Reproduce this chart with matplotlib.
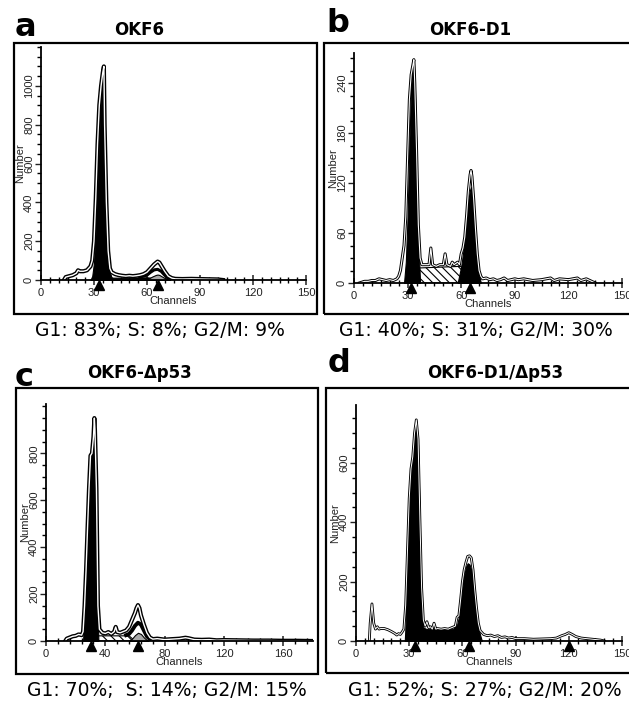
import matplotlib
matplotlib.use("Agg")
import matplotlib.pyplot as plt
from matplotlib.ticker import MultipleLocator
from matplotlib.patches import Rectangle
import matplotlib.transforms as mtransforms

plt.rcParams['font.family'] = ['Liberation Sans', 'DejaVu Sans']
plt.rcParams['hatch.linewidth'] = 0.8

W, H = 629, 701

# ---------------- data (channel, count) ----------------
panel_letters = ["a", "b", "c", "d"]
panel_titles = ["OKF6", "OKF6-D1", "OKF6-Δp53", "OKF6-D1/Δp53"]
panel_stats = ["G1: 83%; S: 8%; G2/M: 9%",
               "G1: 40%; S: 31%; G2/M: 30%",
               "G1: 70%;  S: 14%; G2/M: 15%",
               "G1: 52%; S: 27%; G2/M: 20%"]

a_raw = [(13, 0), (14, 15), (16, 20), (18, 25), (20, 35), (21, 50), (22, 45), (24, 45), (26, 50),
         (28, 70), (29, 100), (30, 200), (31, 420), (32, 700), (33, 900), (34, 1000), (35, 1070),
         (35.6, 1100), (36, 800), (37, 400), (38, 150), (39, 60), (40, 40), (42, 30), (44, 25),
         (46, 22), (48, 20), (50, 22), (52, 20), (54, 22), (56, 25), (58, 30), (60, 40), (62, 60),
         (64, 80), (66, 95), (67, 90), (68, 75), (70, 45), (72, 20), (74, 10), (76, 6), (80, 5),
         (85, 6), (90, 5), (95, 4), (100, 3), (103, 0)]
a_g1 = [(28, 0), (29, 20), (30, 90), (31, 250), (32, 500), (33, 750), (34, 950), (35, 1060),
        (35.6, 1090), (36, 780), (37, 380), (38, 130), (39, 40), (40, 10), (41, 0)]
a_s = [(36, 0), (38, 12), (50, 12), (60, 14), (64, 10), (68, 0)]
a_fit = [(56, 15), (60, 25), (62, 40), (64, 52), (66, 55), (68, 45), (70, 25), (72, 8)]
a_g2 = [(59, 0), (61, 8), (63, 18), (65, 26), (66, 28), (67, 26), (69, 15), (71, 5), (73, 0)]
a_marks = [33, 66]

b_raw = [(3, 0), (6, 2), (8, 2), (10, 3), (12, 3), (14, 5), (16, 4), (18, 3), (20, 4), (22, 3),
         (24, 5), (25, 8), (26, 15), (27, 30), (28, 45), (29, 80), (30, 150), (31, 220), (32, 250),
         (33, 262), (33.5, 268), (34, 240), (35, 160), (36, 70), (37, 30), (38, 22), (40, 22),
         (42, 22), (43, 42), (44, 22), (46, 20), (48, 22), (50, 22), (51, 35), (52, 22), (54, 20),
         (55, 25), (56, 22), (58, 25), (59, 22), (60, 35), (61, 42), (62, 55), (63, 80), (64, 110),
         (65, 130), (65.5, 135), (66, 128), (67, 100), (68, 65), (69, 35), (70, 15), (71, 8),
         (72, 5), (74, 6), (76, 4), (78, 5), (80, 3), (82, 4), (84, 6), (86, 3), (88, 4), (90, 5),
         (92, 4), (95, 5), (100, 3), (105, 4), (110, 6), (112, 3), (115, 5), (120, 4), (125, 6),
         (127, 3), (130, 5), (133, 2), (135, 0)]
b_g1 = [(28, 0), (29, 25), (30, 80), (31, 170), (32, 235), (33, 262), (33.5, 266), (34, 240),
        (35, 150), (36, 50), (37, 0)]
b_s = [(35, 0), (36, 18), (60, 20), (62, 0)]
b_g2 = [(58, 0), (59, 10), (60, 20), (61, 35), (62, 55), (63, 80), (64, 100), (65, 112),
        (65.5, 115), (66, 108), (67, 85), (68, 55), (69, 28), (70, 10), (71, 0)]
b_marks = [32, 65]

c_raw = [(13, 0), (14, 10), (16, 15), (18, 20), (20, 22), (22, 28), (24, 25), (25, 40), (26, 150),
         (27, 300), (28, 480), (29, 650), (30, 790), (31, 800), (32, 870), (32.6, 950), (33, 900),
         (34, 650), (35, 150), (36, 50), (38, 35), (40, 32), (42, 38), (44, 30), (46, 40), (47, 60),
         (48, 38), (50, 35), (52, 40), (54, 45), (56, 60), (58, 90), (60, 120), (61, 140), (62, 153),
         (63, 140), (64, 110), (66, 70), (68, 35), (70, 15), (72, 8), (75, 10), (80, 6), (85, 8),
         (90, 10), (94, 14), (96, 12), (100, 6), (105, 5), (110, 6), (115, 3), (120, 4), (130, 3),
         (140, 2), (150, 2), (160, 1), (170, 1), (180, 0)]
c_g1 = [(25, 0), (26, 140), (27, 290), (28, 470), (29, 640), (30, 780), (31, 790), (32, 860),
        (32.6, 940), (33, 880), (34, 640), (34.8, 140), (35.3, 0)]
c_s = [(34, 0), (35, 22), (56, 22), (60, 0)]
c_fit = [(54, 25), (56, 30), (58, 45), (60, 65), (62, 78), (64, 70), (66, 45), (68, 20), (70, 8)]
c_g2 = [(56, 0), (58, 10), (60, 25), (62, 35), (64, 30), (66, 15), (68, 4), (69, 0)]
c_marks = [30, 62]

d_raw = [(7.5, 0), (8, 60), (9, 125), (10, 60), (11, 40), (12, 48), (13, 40), (14, 42), (16, 42),
         (18, 38), (20, 32), (22, 25), (23, 20), (24, 25), (25, 22), (26, 30), (27, 40), (28, 120),
         (29, 300), (30, 480), (31, 580), (32, 620), (33, 700), (34, 745), (35, 680), (36, 420),
         (37, 180), (38, 70), (39, 50), (40, 65), (41, 45), (42, 48), (43, 40), (44, 60), (45, 40),
         (46, 42), (48, 40), (50, 42), (52, 40), (54, 45), (56, 50), (57, 80), (58, 85), (59, 140),
         (60, 200), (61, 240), (62, 265), (63, 285), (64, 287), (65, 280), (66, 240), (67, 170),
         (68, 110), (69, 60), (70, 35), (72, 22), (74, 18), (76, 20), (78, 15), (80, 18), (82, 12),
         (84, 14), (86, 10), (88, 12), (90, 8), (95, 8), (100, 6), (105, 7), (110, 8), (113, 10),
         (116, 18), (118, 22), (120, 28), (122, 22), (124, 15), (127, 10), (130, 8), (135, 5),
         (138, 3), (140, 0)]
d_fill = [(27.5, 0), (28, 60), (29, 250), (30, 450), (31, 560), (32, 610), (33, 690), (34, 740),
          (35, 660), (36, 380), (37, 120), (38, 45), (40, 40), (45, 40), (50, 40), (55, 42),
          (57, 55), (58, 80), (59, 130), (60, 180), (61, 220), (62, 250), (63, 262), (64, 258),
          (65, 240), (66, 200), (67, 140), (68, 85), (69, 45), (70, 20), (71, 0)]
d_marks = [33, 64, 120]

# axis setup: (xmax, xmajor, xminor, ymax, ymajor, yminor, ylabel_max)
axis_cfg = {
    "a": (150, 30, 5, 1200, 200, 50, 1000),
    "b": (150, 30, 5, 276, 60, 15, 240),
    "c": (180, 40, 8, 1010, 200, 50, 800),
    "d": (150, 30, 5, 795, 200, 50, 600),
}

fig = plt.figure(figsize=(W / 100, H / 100), dpi=100)
fig.patch.set_facecolor("white")


def px_axes(x0, y0, x1, y1):
    ax = fig.add_axes([x0 / W, 1 - y1 / H, (x1 - x0) / W, (y1 - y0) / H])
    ax.patch.set_visible(False)
    return ax


def box(x0, y0, x1, y1):
    fig.add_artist(Rectangle((x0 / W, 1 - y1 / H), (x1 - x0) / W, (y1 - y0) / H,
                             transform=fig.transFigure, fill=False, lw=1.6,
                             edgecolor="black", zorder=0))


def unzip(pts):
    return [p[0] for p in pts], [p[1] for p in pts]


def fill(ax, pts, color="black", hatch=None, edge=None, z=2):
    xs, ys = unzip(pts)
    ax.fill_between(xs, 0, ys, facecolor=color, edgecolor=edge if edge else color,
                    hatch=hatch, lw=0.8, zorder=z)


def raw_line(ax, pts, lw_b=3.0, lw_w=1.0):
    xs, ys = unzip(pts)
    ax.plot(xs, ys, color="black", lw=lw_b, zorder=5, solid_joinstyle="round")
    ax.plot(xs, ys, color="white", lw=lw_w, zorder=6, solid_joinstyle="round")


def style_axes(ax, key, marks):
    xmax, xmaj, xmin, ymax, ymaj, ymin, ylab = axis_cfg[key]
    ax.set_xlim(0, xmax)
    ax.set_ylim(0, ymax)
    for s in ["top", "right"]:
        ax.spines[s].set_visible(False)
    ax.spines["left"].set_linewidth(1.3)
    ax.spines["bottom"].set_linewidth(1.3)
    ax.spines["left"].set_zorder(10)
    ax.spines["bottom"].set_zorder(10)
    ax.set_xticks(range(0, xmax + 1, xmaj))
    ax.xaxis.set_minor_locator(MultipleLocator(xmin))
    ax.set_yticks(range(0, ylab + 1, ymaj))
    ax.yaxis.set_minor_locator(MultipleLocator(ymin))
    ax.tick_params(axis="x", which="major", direction="inout", length=7, width=1.1,
                   labelsize=8, pad=2, colors="#222222")
    ax.tick_params(axis="x", which="minor", direction="inout", length=5, width=1.0)
    ax.tick_params(axis="y", which="major", direction="out", length=4, width=1.0,
                   labelsize=8, pad=1, colors="#222222", labelrotation=90)
    ax.tick_params(axis="y", which="minor", direction="out", length=3, width=1.0)
    for lab in ax.get_yticklabels():
        lab.set_va("center")
    ax.set_xlabel("Channels", fontsize=8, labelpad=-1, color="#222222")
    ax.set_ylabel("Number", fontsize=8, labelpad=-1, color="#222222")
    trans = mtransforms.offset_copy(ax.get_xaxis_transform(), fig=fig, y=-5, units="dots")
    ax.plot(marks, [0] * len(marks), marker="^", ms=6.5, color="black", ls="none",
            transform=trans, clip_on=False, zorder=11)


# ---------- panel a ----------
box(14, 43, 317, 314)
ax = px_axes(41, 47, 306, 280)
fill(ax, a_s)
fill(ax, a_g1)
xs, ys = unzip(a_fit)
ax.plot(xs, ys, color="black", lw=2.2, zorder=4)
fill(ax, a_g2, color="#a8a8a8", edge="black", z=4)
raw_line(ax, a_raw)
style_axes(ax, "a", a_marks)

# ---------- panel b ----------
box(324, 43, 640, 314)
ax = px_axes(354, 53, 622, 283)
fill(ax, b_s, color="white", hatch="\\\\\\\\", edge="black", z=2)
fill(ax, b_g1)
fill(ax, b_g2)
raw_line(ax, b_raw, lw_b=2.2, lw_w=0.8)
style_axes(ax, "b", b_marks)

# ---------- panel c ----------
box(16, 388, 318, 674)
ax = px_axes(46, 404, 313, 641)
fill(ax, c_s, color="white", hatch="\\\\\\\\", edge="black", z=2)
fill(ax, c_g1)
xs, ys = unzip(c_fit)
ax.plot(xs, ys, color="black", lw=2.8, zorder=4)
fill(ax, c_g2, color="#a8a8a8", edge="black", z=4)
raw_line(ax, c_raw)
style_axes(ax, "c", c_marks)

# ---------- panel d ----------
box(326, 388, 640, 673)
ax = px_axes(356, 405, 622, 641)
fill(ax, d_fill)
raw_line(ax, d_raw, lw_b=2.0, lw_w=0.7)
style_axes(ax, "d", d_marks)

# ---------- texts ----------
letter_pos = [(25, 27), (338, 24), (24, 377), (339, 364)]
title_pos = [(139, 30), (470, 30), (140, 373), (495, 373)]
stat_pos = [(160, 330), (476, 330), (167, 690), (485, 690)]
for i in range(4):
    lx, ly = letter_pos[i]
    fig.text(lx / W, 1 - ly / H, panel_letters[i], fontsize=23, fontweight="bold",
             ha="center", va="center", family=["DejaVu Sans"])
    tx, ty = title_pos[i]
    fig.text(tx / W, 1 - ty / H, panel_titles[i], fontsize=12, fontweight="bold",
             ha="center", va="center", family=["DejaVu Sans"])
    sx, sy = stat_pos[i]
    fig.text(sx / W, 1 - sy / H, panel_stats[i], fontsize=13.5, ha="center", va="center",
             family=["DejaVu Sans"])

fig.savefig("out.png", dpi=100)
